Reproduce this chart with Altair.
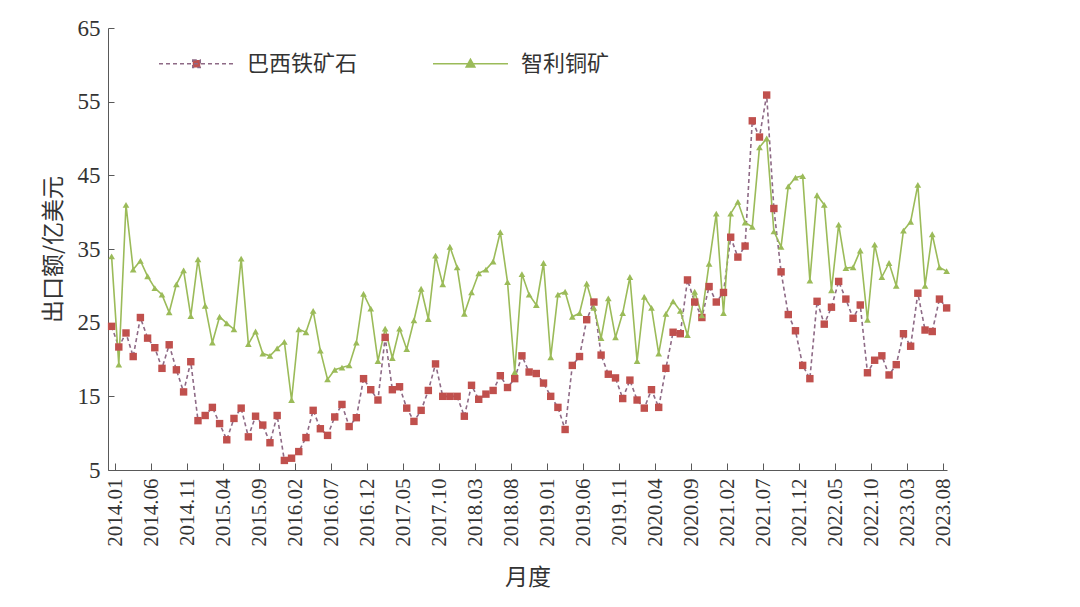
import altair as alt
import pandas as pd

iron_name = "巴西铁矿石"
copper_name = "智利铜矿"
series_names = [iron_name, copper_name]

# Brazil iron ore exports (100 million USD), monthly
iron = [
    24.5, 21.7, 23.6, 20.4, 25.7, 22.9, 21.6, 18.8, 22.0, 18.6,
    15.6, 19.7, 11.7, 12.4, 13.5, 11.3, 9.1, 12.0, 13.4, 9.5,
    12.3, 11.1, 8.7, 12.4, 6.3, 6.6, 7.5, 9.4, 13.1, 10.6,
    9.7, 12.2, 13.9, 10.9, 12.1, 17.4, 15.9, 14.5, 23.0, 15.9,
    16.3, 13.4, 11.6, 13.1, 15.8, 19.4, 15.0, 15.0, 15.0, 12.3,
    16.5, 14.6, 15.3, 15.8, 17.8, 16.2, 17.4, 20.5, 18.3, 18.1,
    16.8, 15.0, 13.5, 10.5, 19.2, 20.4, 25.4, 27.8, 20.6, 18.0,
    17.5, 14.7, 17.2, 14.5, 13.4, 15.9, 13.5, 18.8, 23.7, 23.5,
    30.8, 27.8, 25.7, 29.9, 27.8, 29.1, 36.6, 33.9, 35.4, 52.4,
    50.2, 55.9, 40.5, 31.9, 26.1, 23.9, 19.2, 17.4, 27.9, 24.8,
    27.1, 30.6, 28.2, 25.6, 27.4, 18.2, 19.9, 20.5, 17.9, 19.3,
    23.5, 21.8, 29.0, 24.0, 23.8, 28.2, 27.0,
]

# Chile copper ore exports (100 million USD), monthly
copper = [
    34.0, 19.3, 41.0, 32.2, 33.4, 31.3, 29.7, 28.8, 26.4, 30.2,
    32.1, 25.9, 33.6, 27.3, 22.3, 25.8, 24.9, 24.1, 33.7, 22.1,
    23.8, 20.8, 20.5, 21.5, 22.4, 14.5, 24.1, 23.7, 26.6, 21.2,
    17.3, 18.6, 18.9, 19.2, 22.3, 28.9, 26.9, 19.8, 24.2, 20.2,
    24.2, 21.4, 25.3, 29.6, 25.5, 34.1, 30.2, 35.3, 32.5, 26.2,
    29.1, 31.7, 32.2, 33.3, 37.3, 30.5, 18.3, 31.6, 28.8, 27.4,
    33.1, 20.3, 28.8, 29.2, 25.8, 26.3, 30.3, 27.0, 22.9, 28.3,
    23.0, 26.3, 31.2, 19.8, 28.5, 27.0, 20.8, 26.2, 27.9, 26.6,
    23.3, 29.2, 26.0, 33.0, 39.8, 26.3, 39.8, 41.4, 38.6, 38.0,
    48.8, 50.0, 37.4, 35.3, 43.5, 44.7, 44.9, 30.7, 42.3, 41.0,
    29.4, 38.3, 32.4, 32.5, 34.8, 25.4, 35.6, 31.2, 33.1, 30.0,
    37.5, 38.7, 43.7, 30.0, 37.0, 32.5, 32.0,
]

tick_labels = [
    "2014.01", "2014.06", "2014.11", "2015.04", "2015.09", "2016.02",
    "2016.07", "2016.12", "2017.05", "2017.10", "2018.03", "2018.08",
    "2019.01", "2019.06", "2019.11", "2020.04", "2020.09", "2021.02",
    "2021.07", "2021.12", "2022.05", "2022.10", "2023.03", "2023.08",
]
y_ticks = [5, 15, 25, 35, 45, 55, 65]

RED = "#C0504D"
GREEN = "#9BBB59"
MAUVE = "#8E6A86"
AXIS = "#595959"
TEXT = "#333333"

rows = []
for i, v in enumerate(iron):
    rows.append({"idx": i, "value": v, "series": iron_name})
for i, v in enumerate(copper):
    rows.append({"idx": i, "value": v, "series": copper_name})
df = pd.DataFrame(rows)

tick_pos = [0.5 + 5 * k for k in range(len(tick_labels))]
label_expr = "[" + ",".join("'" + t + "'" for t in tick_labels) + "][round((datum.value - 0.5) / 5)]"

xscale = alt.Scale(domain=[-0.5, 116.05], nice=False, zero=False)
yscale = alt.Scale(domain=[5, 65], nice=False, zero=False)

main_x_axis = alt.Axis(
    values=tick_pos, labelExpr=label_expr, labelAngle=270, ticks=False,
    grid=False, domain=True, domainColor=AXIS, domainWidth=1,
    labelFont="Liberation Serif", labelFontSize=21, labelColor=TEXT,
    labelPadding=8, title="月度", titleFont="Noto Sans CJK SC",
    titleFontSize=23, titleFontWeight="normal", titleColor=TEXT, titlePadding=20,
    labelOverlap=False,
)
main_y_axis = alt.Axis(
    values=y_ticks, ticks=False, grid=False, domain=True, domainColor=AXIS,
    domainWidth=1, labelFont="Liberation Serif", labelFontSize=23,
    labelColor=TEXT, labelPadding=8, title="出口额/亿美元",
    titleFont="Noto Sans CJK SC", titleFontSize=23, titleFontWeight="normal",
    titleColor=TEXT, titlePadding=12,
)
tick_x_axis = alt.Axis(
    orient="bottom", offset=-7, values=tick_pos, tickSize=7, tickColor=AXIS,
    tickWidth=1, labels=False, domain=False, grid=False, title=None,
)
tick_y_axis = alt.Axis(
    orient="left", offset=-6, values=y_ticks, tickSize=6, tickColor=AXIS,
    tickWidth=1, labels=False, domain=False, grid=False, title=None,
)

base = alt.Chart(df)

iron_line = base.transform_filter(alt.datum.series == iron_name).mark_line(
    color=MAUVE, strokeWidth=1.6, strokeDash=[4, 3]
).encode(
    x=alt.X("idx:Q", scale=xscale, axis=main_x_axis),
    y=alt.Y("value:Q", scale=yscale, axis=main_y_axis),
)

copper_line = base.transform_filter(alt.datum.series == copper_name).mark_line(
    color=GREEN, strokeWidth=1.6
).encode(
    x=alt.X("idx:Q", scale=xscale, axis=None),
    y=alt.Y("value:Q", scale=yscale, axis=None),
)

iron_pts = base.transform_filter(alt.datum.series == iron_name).mark_point(
    shape="square", filled=True, color=RED, size=55, opacity=1
).encode(
    x=alt.X("idx:Q", scale=xscale, axis=tick_x_axis),
    y=alt.Y("value:Q", scale=yscale, axis=tick_y_axis),
)

copper_pts = base.transform_filter(alt.datum.series == copper_name).mark_point(
    shape="triangle-up", filled=True, color=GREEN, size=45, opacity=1
).encode(
    x=alt.X("idx:Q", scale=xscale, axis=None),
    y=alt.Y("value:Q", scale=yscale, axis=None),
)

sq_path = "M-1,0H1M-0.1,-0.1H0.1V0.1H-0.1Z"
tri_path = "M-1,0H1M0,-0.12L0.115,0.085L-0.115,0.085Z"

legend_layer = base.transform_filter("false").mark_point(
    filled=True, size=5625, opacity=1, strokeWidth=1.5
).encode(
    x=alt.X("idx:Q", scale=xscale, axis=None),
    y=alt.Y("value:Q", scale=yscale, axis=None),
    fill=alt.Fill("series:N", title=None,
                  scale=alt.Scale(domain=series_names, range=[RED, GREEN])),
    stroke=alt.Stroke("series:N", title=None,
                      scale=alt.Scale(domain=series_names, range=[MAUVE, GREEN])),
    shape=alt.Shape("series:N", title=None,
                    scale=alt.Scale(domain=series_names, range=[sq_path, tri_path])),
    strokeDash=alt.StrokeDash("series:N", title=None,
                              scale=alt.Scale(domain=series_names, range=[[4, 3], [1, 0]])),
)

chart = alt.layer(
    iron_line, copper_line, iron_pts, copper_pts, legend_layer
).resolve_axis(
    x="independent", y="independent"
).properties(
    width=839, height=442,
    autosize=alt.AutoSizeParams(type="none"),
    padding={"left": 100, "top": 20, "right": 100, "bottom": 130},
    background="white",
).configure_view(
    strokeWidth=0
).configure_legend(
    orient="none", legendX=50, legendY=-3, direction="horizontal",
    labelFont="Noto Sans CJK SC", labelFontSize=22, labelColor=TEXT,
    symbolSize=5625, symbolStrokeWidth=1.5, labelOffset=12,
    columnPadding=72, padding=0, symbolOpacity=1,
)

chart.save("out.html", embed_options={"renderer": "svg", "actions": False})
